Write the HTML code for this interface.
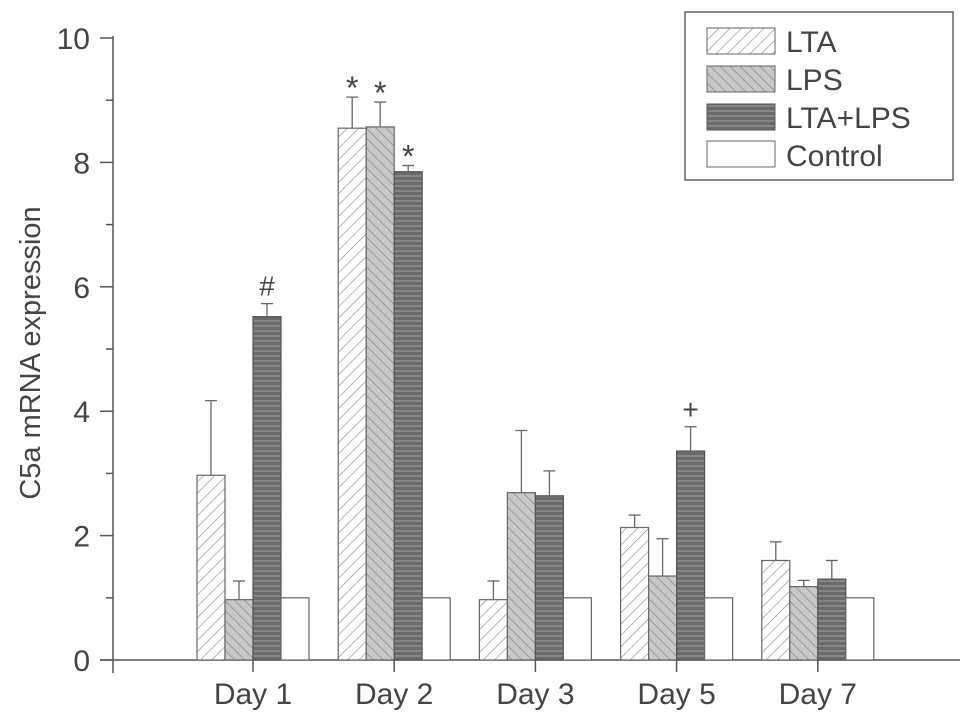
<!DOCTYPE html>
<html><head><meta charset="utf-8"><style>
html,body{margin:0;padding:0;background:#fff;width:969px;height:728px;overflow:hidden}
text{font-family:"Liberation Sans",sans-serif;fill:#444}
</style></head><body>
<svg id="chart" width="969" height="728" xmlns="http://www.w3.org/2000/svg">
<defs>
<pattern id="pLTA" patternUnits="userSpaceOnUse" width="8" height="8" patternTransform="rotate(45)"><rect width="8" height="8" fill="#fff"/><line x1="0" y1="0" x2="0" y2="8" stroke="#888" stroke-width="1.2"/></pattern>
<pattern id="pLPS" patternUnits="userSpaceOnUse" width="7" height="7" patternTransform="rotate(-45)"><rect width="7" height="7" fill="#c8c8c8"/><line x1="0" y1="0" x2="0" y2="7" stroke="#888" stroke-width="1.5"/></pattern>
<pattern id="pBoth" patternUnits="userSpaceOnUse" width="6" height="5"><rect width="6" height="5" fill="#6a6a6a"/><line x1="0" y1="1" x2="6" y2="1" stroke="#9a9a9a" stroke-width="1.2"/></pattern>
</defs>
<g id="axes"></g>
<g id="bars"></g>
<g>
<rect x="685" y="12" width="268" height="168" fill="#fff" stroke="#666" stroke-width="1.5"/>
<rect x="707" y="28" width="68" height="26" fill="url(#pLTA)" stroke="#666"/>
<text x="786" y="52" font-size="30">LTA</text>
<rect x="707" y="66" width="68" height="26" fill="url(#pLPS)" stroke="#666"/>
<text x="786" y="90" font-size="30">LPS</text>
<rect x="707" y="104" width="68" height="26" fill="url(#pBoth)" stroke="#555"/>
<text x="786" y="128" font-size="30">LTA+LPS</text>
<rect x="707" y="141" width="68" height="26" fill="#fff" stroke="#666"/>
<text x="786" y="166" font-size="30">Control</text>
</g>
<text transform="translate(40,353) rotate(-90)" text-anchor="middle" font-size="29">C5a mRNA expression</text>
</svg>
<script>
const categories=["Day 1","Day 2","Day 3","Day 5","Day 7"];
const seriesNames=["LTA","LPS","LTA+LPS","Control"];
const lta=[2.97,8.55,0.97,2.13,1.6];
const ltaErr=[1.2,0.5,0.3,0.2,0.3];
const lps=[0.97,8.57,2.69,1.35,1.18];
const lpsErr=[0.3,0.4,1.0,0.6,0.1];
const both=[5.52,7.85,2.64,3.36,1.3];
const bothErr=[0.21,0.1,0.4,0.39,0.3];
const control=[1,1,1,1,1];
const marks=[["","*","","",""],["","*","","",""],["#","*","","+",""],["","","","",""]];
const yTicks=[0,2,4,6,8,10];
const NS="http://www.w3.org/2000/svg";
const y0=660,pxU=62.2;
const yS=v=>y0-v*pxU;
const xC=i=>253+i*141.2;
const bw=28;
const fills=["url(#pLTA)","url(#pLPS)","url(#pBoth)","#fff"];
const strokes=["#666","#666","#555","#666"];
const vals=[lta,lps,both,control];
const errs=[ltaErr,lpsErr,bothErr,null];
const keys=["lta","lps","lta-lps","control"];
function mk(t,a,p){const e=document.createElementNS(NS,t);for(const k in a)e.setAttribute(k,a[k]);p.appendChild(e);return e;}
const ax=document.getElementById('axes'),bg=document.getElementById('bars');
categories.forEach((c,i)=>{
  vals.forEach((s,j)=>{
    const x=xC(i)-2*bw+j*bw,top=yS(s[i]);
    const r=mk('rect',{x:x,y:top,width:bw,height:y0-top,fill:fills[j],stroke:strokes[j],'stroke-width':1.2},bg);
    
    
    if(errs[j]){
      const cx=x+bw/2,et=yS(s[i]+errs[j][i]);
      const g=mk('g',{stroke:'#666','stroke-width':1.3},bg);
      
      
      mk('line',{x1:cx,y1:top,x2:cx,y2:et},g);
      mk('line',{x1:cx-6,y1:et,x2:cx+6,y2:et},g);
      const m=marks[j][i];
      if(m){const t=mk('text',{x:cx,y:et-(m=='*'?-2:8),'text-anchor':'middle','font-size':m=='*'?32:28,'font-weight':m=='*'?'normal':'normal'},bg);t.textContent=m;
        if(m=='*')t.setAttribute('fill','#777');
        
        }
    }
  });
  mk('line',{x1:xC(i),y1:y0,x2:xC(i),y2:y0+12,stroke:'#555','stroke-width':1.5},ax);
  const t=mk('text',{x:xC(i),y:704,'text-anchor':'middle','font-size':30},ax);t.textContent=c;
  
  
});
const yl=mk('line',{x1:113,y1:36,x2:113,y2:673,stroke:'#555','stroke-width':1.5},ax);


const xl=mk('line',{x1:100,y1:y0,x2:960,y2:y0,stroke:'#555','stroke-width':1.5},ax);


yTicks.forEach(v=>{
  mk('line',{x1:100,y1:yS(v),x2:113,y2:yS(v),stroke:'#555','stroke-width':1.5},ax);
  if(v<10)mk('line',{x1:106,y1:yS(v+1),x2:113,y2:yS(v+1),stroke:'#555','stroke-width':1.5},ax);
  const t=mk('text',{x:90,y:yS(v)+11,'text-anchor':'end','font-size':30},ax);t.textContent=v;
  
  
});
</script>
</body></html>
